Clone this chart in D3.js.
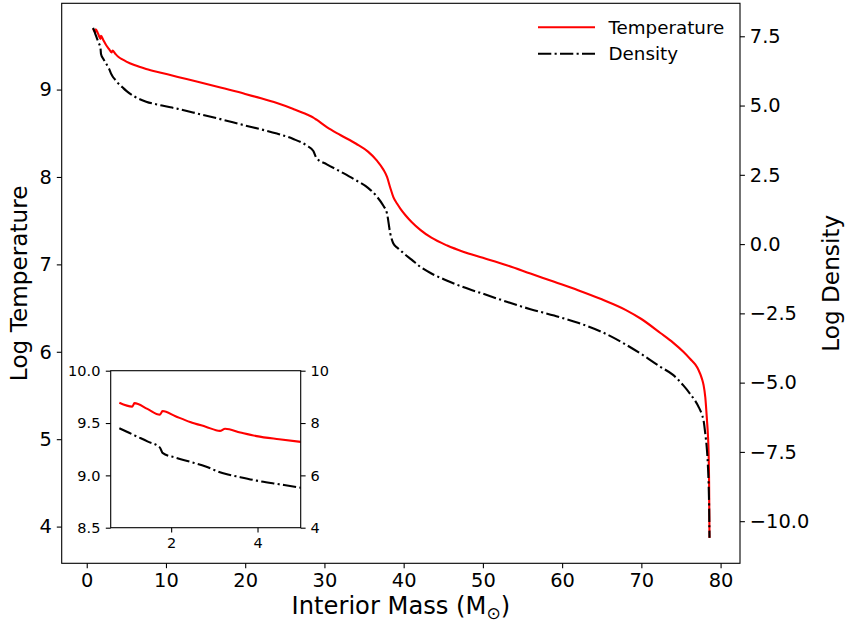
<!DOCTYPE html>
<html>
<head>
<meta charset="utf-8">
<script src="https://cdn.jsdelivr.net/npm/d3@7"></script>
<style>
  html, body { margin: 0; padding: 0; background: #fff; }
  svg { display: block; font-family: "DejaVu Sans", sans-serif; }
</style>
</head>
<body>
<svg id="chart" width="846" height="623"></svg>
<script>
// ---------------- data ----------------
const interiorMass = [0.80, 1.10, 1.15, 1.45, 1.74, 1.80, 2.1, 2.44, 2.8, 3.13,
  3.25, 3.6, 3.98, 4.5, 5.0, 6, 7.5, 9.5, 11.5, 14,
  17, 20, 22, 24, 26, 27.8, 28.6, 29.0, 30.3, 32,
  34, 35.5, 36.6, 37.4, 37.9, 38.3, 38.7, 39.2, 39.6, 40.2,
  41, 42.1, 43.5, 45.5, 47.5, 50, 53, 56, 59, 62,
  65, 68, 70, 72.4, 74, 75.3, 76.2, 76.8, 77.2, 77.65,
  77.85, 78.07, 78.28, 78.4, 78.49, 78.55, 78.6];
const logTemperature = [9.694, 9.657, 9.69, 9.635, 9.58, 9.615, 9.565, 9.51, 9.465, 9.425,
  9.445, 9.41, 9.375, 9.345, 9.32, 9.28, 9.235, 9.19, 9.145, 9.09,
  9.02, 8.95, 8.90, 8.845, 8.78, 8.715, 8.68, 8.655, 8.57, 8.48,
  8.38, 8.29, 8.19, 8.09, 8.00, 7.88, 7.77, 7.69, 7.635, 7.565,
  7.485, 7.395, 7.305, 7.215, 7.145, 7.075, 6.99, 6.895, 6.80, 6.705,
  6.60, 6.48, 6.375, 6.215, 6.105, 6.00, 5.915, 5.855, 5.795, 5.69,
  5.62, 5.48, 5.22, 5.05, 4.84, 4.5, 3.87];
const logDensity = [7.80, 7.57, 7.53, 7.30, 7.06, 6.86, 6.68, 6.52, 6.34, 6.12,
  6.06, 5.93, 5.80, 5.66, 5.53, 5.33, 5.14, 5.00, 4.88, 4.71,
  4.50, 4.28, 4.14, 3.99, 3.80, 3.55, 3.36, 3.10, 2.88, 2.62,
  2.30, 2.03, 1.72, 1.40, 1.10, 0.40, 0.02, -0.13, -0.23, -0.38,
  -0.56, -0.82, -1.06, -1.32, -1.55, -1.79, -2.08, -2.35, -2.58, -2.84,
  -3.17, -3.62, -3.97, -4.43, -4.72, -5.10, -5.42, -5.66, -5.86, -6.16,
  -6.36, -6.85, -7.44, -8.0, -8.64, -9.4, -10.6];

const xTicks = [0, 10, 20, 30, 40, 50, 60, 70, 80];
const tempTicks = [4, 5, 6, 7, 8, 9];
const densTicks = [-10, -7.5, -5, -2.5, 0, 2.5, 5, 7.5];
const densTickLabels = ["\u221210.0", "\u22127.5", "\u22125.0", "\u22122.5", "0.0", "2.5", "5.0", "7.5"];
const insetXTicks = [2, 4];
const insetTempTicks = [8.5, 9.0, 9.5, 10.0];
const insetTempTickLabels = ["8.5", "9.0", "9.5", "10.0"];
const insetDensTicks = [4, 6, 8, 10];
const seriesNames = ["Temperature", "Density"];

// ---------------- layout ----------------
const svg = d3.select("#chart");
const P = { left: 61.7, right: 740, top: 3.3, bottom: 563.3 };
const I = { left: 110.7, right: 300.7, top: 370.7, bottom: 527.7 };
const tickLen = 4.9, tickPad = 4.9;
const dashDot = "13.3,3.3,2.1,3.3";
const labelFont = 23.2;
const xLabelFont = 24.2;

const rows = interiorMass.map((m, i) => ({ m, t: logTemperature[i], d: logDensity[i] }));

const x = d3.scaleLinear().domain([-3.16, 82.45]).range([P.left, P.right]);
const yT = d3.scaleLinear().domain([3.58, 9.987]).range([P.bottom, P.top]);
const yD = d3.scaleLinear().domain([-11.52, 8.69]).range([P.bottom, P.top]);

const defs = svg.append("defs");
defs.append("clipPath").attr("id", "clipMain").append("rect")
  .attr("x", P.left).attr("y", P.top).attr("width", P.right - P.left).attr("height", P.bottom - P.top);
defs.append("clipPath").attr("id", "clipInset").append("rect")
  .attr("x", I.left).attr("y", I.top).attr("width", I.right - I.left).attr("height", I.bottom - I.top);

function styleAxis(g, fontSize) {
  g.select(".domain").remove();
  g.selectAll(".tick line").attr("stroke", "#000").attr("stroke-width", 1.1);
  g.selectAll(".tick text").attr("fill", "#000").style("font-size", fontSize + "px")
    .style("font-family", "DejaVu Sans");
}

// main lines
const gMain = svg.append("g").attr("clip-path", "url(#clipMain)");
gMain.append("path").datum(rows)
  .attr("fill", "none").attr("stroke", "#ff0000").attr("stroke-width", 2.1)
  .attr("stroke-linejoin", "round")
  .attr("d", d3.line().x(r => x(r.m)).y(r => yT(r.t)).curve(d3.curveMonotoneX));
gMain.append("path").datum(rows)
  .attr("fill", "none").attr("stroke", "#000").attr("stroke-width", 2.1)
  .attr("stroke-dasharray", dashDot)
  .attr("d", d3.line().x(r => x(r.m)).y(r => yD(r.d)).curve(d3.curveMonotoneX));

// main axes
svg.append("g").attr("transform", `translate(0,${P.bottom})`)
  .call(d3.axisBottom(x).tickValues(xTicks).tickFormat(d3.format("d")).tickSizeOuter(0).tickSize(tickLen).tickPadding(tickPad))
  .call(g => styleAxis(g, 19.4));
svg.append("g").attr("transform", `translate(${P.left},0)`)
  .call(d3.axisLeft(yT).tickValues(tempTicks).tickFormat(d3.format("d")).tickSizeOuter(0).tickSize(tickLen).tickPadding(tickPad))
  .call(g => styleAxis(g, 19.4));
svg.append("g").attr("transform", `translate(${P.right},0)`)
  .call(d3.axisRight(yD).tickValues(densTicks).tickFormat((d, i) => densTickLabels[i]).tickSizeOuter(0).tickSize(tickLen).tickPadding(tickPad))
  .call(g => styleAxis(g, 19.4));

svg.append("rect").attr("x", P.left).attr("y", P.top)
  .attr("width", P.right - P.left).attr("height", P.bottom - P.top)
  .attr("fill", "none").attr("stroke", "#000").attr("stroke-width", 1.1);

// axis labels
const xl = svg.append("text").attr("x", (P.left + P.right) / 2).attr("y", 614)
  .attr("text-anchor", "middle").style("font-size", xLabelFont + "px").attr("fill", "#000");
xl.append("tspan").text("Interior Mass (M");
xl.append("tspan").text("\u2299").style("font-size", (xLabelFont * 0.7) + "px").attr("dy", 5);
xl.append("tspan").text(")").attr("dy", -5);

svg.append("text").attr("transform", `translate(27,${(P.top + P.bottom) / 2}) rotate(-90)`)
  .attr("text-anchor", "middle").style("font-size", labelFont + "px").attr("fill", "#000")
  .text("Log Temperature");
svg.append("text").attr("transform", `translate(839,${(P.top + P.bottom) / 2}) rotate(-90)`)
  .attr("text-anchor", "middle").style("font-size", labelFont + "px").attr("fill", "#000")
  .text("Log Density");

// legend
const lg = svg.append("g");
const legendY = [27.3, 53.7];
lg.append("line").attr("x1", 538).attr("x2", 595).attr("y1", legendY[0]).attr("y2", legendY[0])
  .attr("stroke", "#ff0000").attr("stroke-width", 2.1);
lg.append("line").attr("x1", 538).attr("x2", 595).attr("y1", legendY[1]).attr("y2", legendY[1])
  .attr("stroke", "#000").attr("stroke-width", 2.1).attr("stroke-dasharray", dashDot);
seriesNames.forEach((n, i) => {
  lg.append("text").attr("x", 608.5).attr("y", legendY[i]).attr("dy", "0.36em")
    .style("font-size", "18.3px").attr("fill", "#000").text(n);
});

// ---------------- inset ----------------
const ix = d3.scaleLinear().domain([0.6, 5.0]).range([I.left, I.right]);
const iyT = d3.scaleLinear().domain([8.5, 10.0]).range([I.bottom, I.top]);
const iyD = d3.scaleLinear().domain([4, 10]).range([I.bottom, I.top]);

svg.append("rect").attr("x", I.left).attr("y", I.top)
  .attr("width", I.right - I.left).attr("height", I.bottom - I.top).attr("fill", "#fff");

const gIn = svg.append("g").attr("clip-path", "url(#clipInset)");
const insetRows = rows.filter(r => r.m <= 6);
gIn.append("path").datum(insetRows)
  .attr("fill", "none").attr("stroke", "#ff0000").attr("stroke-width", 2.1)
  .attr("stroke-linejoin", "round")
  .attr("d", d3.line().x(r => ix(r.m)).y(r => iyT(r.t)).curve(d3.curveMonotoneX));
gIn.append("path").datum(insetRows)
  .attr("fill", "none").attr("stroke", "#000").attr("stroke-width", 2.1)
  .attr("stroke-dasharray", dashDot)
  .attr("d", d3.line().x(r => ix(r.m)).y(r => iyD(r.d)).curve(d3.curveMonotoneX));

svg.append("g").attr("transform", `translate(0,${I.bottom})`)
  .call(d3.axisBottom(ix).tickValues(insetXTicks).tickFormat(d3.format("d")).tickSizeOuter(0).tickSize(tickLen).tickPadding(tickPad))
  .call(g => styleAxis(g, 14.5));
svg.append("g").attr("transform", `translate(${I.left},0)`)
  .call(d3.axisLeft(iyT).tickValues(insetTempTicks).tickFormat((d, i) => insetTempTickLabels[i]).tickSizeOuter(0).tickSize(tickLen).tickPadding(tickPad + 0.5))
  .call(g => styleAxis(g, 14.5));
svg.append("g").attr("transform", `translate(${I.right},0)`)
  .call(d3.axisRight(iyD).tickValues(insetDensTicks).tickFormat(d3.format("d")).tickSizeOuter(0).tickSize(tickLen).tickPadding(tickPad))
  .call(g => styleAxis(g, 14.5));

svg.append("rect").attr("x", I.left).attr("y", I.top)
  .attr("width", I.right - I.left).attr("height", I.bottom - I.top)
  .attr("fill", "none").attr("stroke", "#000").attr("stroke-width", 1.1);
</script>
</body>
</html>
